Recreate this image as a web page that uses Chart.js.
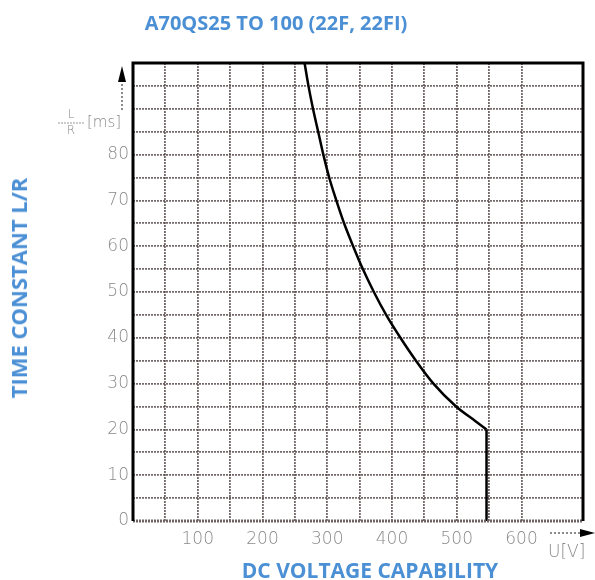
<!DOCTYPE html>
<html>
<head>
<meta charset="utf-8">
<script src="https://cdn.jsdelivr.net/npm/chart.js@4.4.1/dist/chart.umd.min.js"></script>
<style>
  body { margin: 0; background: #fff; }
  #wrap { position: relative; width: 595px; height: 580px; }
  .lbl { position: absolute; color: #4b8fd5; font-family: "Open Sans", sans-serif; font-weight: 700; white-space: nowrap; }
  #title { left: 276px; top: 22px; font-size: 20px; transform: translate(-50%, -50%); }
  #xtitle { left: 370px; top: 570px; font-size: 21px; transform: translate(-50%, -50%); }
  #ytitle { left: 18px; top: 288px; font-size: 22px; transform: translate(-50%, -50%) rotate(-90deg); }
</style>
</head>
<body>
<div id="wrap">
  <canvas id="chart" width="595" height="580"></canvas>
  <div class="lbl" id="title">A70QS25 TO 100 (22F, 22FI)</div>
  <div class="lbl" id="xtitle">DC VOLTAGE CAPABILITY</div>
  <div class="lbl" id="ytitle">TIME CONSTANT L/R</div>
</div>
<script>
// curve: U [V] vs L/R [ms], last point is the foot of the vertical drop
const voltage = [265, 271, 278, 286, 294, 303, 314, 326, 340, 355, 372, 391, 413, 437, 464, 499, 529, 546, 546];
const timeConstant = [100, 95, 90, 85, 80, 75, 70, 65, 60, 55, 50, 45, 40, 35, 30, 25, 21.8, 20, 0];
const xLabels = [100, 200, 300, 400, 500, 600];
const yLabels = [0, 10, 20, 30, 40, 50, 60, 70, 80];

const tickColor = "#8a8a8a";
const tickFont = { family: "DejaVu Sans", size: 17, weight: "200" };

const points = voltage.map((u, i) => ({ x: u, y: timeConstant[i] }));

// frame, arrows and the small unit labels
const decorPlugin = {
  id: "decor",
  afterDraw(chart) {
    const { ctx, chartArea: a } = chart;
    ctx.save();
    // bottom line, dotted and thick
    ctx.strokeStyle = "#6e6464";
    ctx.lineWidth = 3;
    ctx.setLineDash([2, 1]);
    ctx.beginPath();
    ctx.moveTo(a.left, a.bottom);
    ctx.lineTo(a.right, a.bottom);
    ctx.stroke();
    // left, top, right in solid black
    ctx.setLineDash([]);
    ctx.strokeStyle = "#000";
    ctx.beginPath();
    ctx.moveTo(a.left, a.bottom);
    ctx.lineTo(a.left, a.top);
    ctx.lineTo(a.right, a.top);
    ctx.lineTo(a.right, a.bottom);
    ctx.stroke();

    // y arrow
    const ax = a.left - 11;
    ctx.strokeStyle = "#666";
    ctx.lineWidth = 1.5;
    ctx.setLineDash([2, 2]);
    ctx.beginPath();
    ctx.moveTo(ax, a.top + 47);
    ctx.lineTo(ax, a.top + 18);
    ctx.stroke();
    ctx.setLineDash([]);
    ctx.fillStyle = "#000";
    ctx.beginPath();
    ctx.moveTo(ax, a.top + 3);
    ctx.lineTo(ax - 4, a.top + 19);
    ctx.lineTo(ax + 4, a.top + 19);
    ctx.closePath();
    ctx.fill();

    // x arrow
    const ay = a.bottom + 12;
    ctx.setLineDash([2, 2]);
    ctx.beginPath();
    ctx.moveTo(a.right - 33, ay);
    ctx.lineTo(a.right - 2, ay);
    ctx.stroke();
    ctx.setLineDash([]);
    ctx.beginPath();
    ctx.moveTo(a.right + 12, ay);
    ctx.lineTo(a.right - 3, ay - 4);
    ctx.lineTo(a.right - 3, ay + 4);
    ctx.closePath();
    ctx.fill();

    // L/R [ms]
    ctx.fillStyle = tickColor;
    ctx.font = "200 12px 'DejaVu Sans'";
    ctx.textAlign = "center";
    ctx.textBaseline = "middle";
    ctx.fillText("L", 71, a.top + 52);
    ctx.fillText("R", 71, a.top + 68);
    ctx.strokeStyle = "#999";
    ctx.lineWidth = 1;
    ctx.setLineDash([2, 1]);
    ctx.beginPath();
    ctx.moveTo(58, a.top + 60);
    ctx.lineTo(85, a.top + 60);
    ctx.stroke();
    ctx.setLineDash([]);
    ctx.font = "200 15px 'DejaVu Sans'";
    ctx.textAlign = "left";
    ctx.fillText("[ms]", 87, a.top + 60);

    // U[V]
    ctx.font = "200 17px 'DejaVu Sans'";
    ctx.fillText("U[V]", a.right - 35, a.bottom + 32);
    ctx.restore();
  }
};

const gridStyle = { color: "rgba(80, 68, 68, 0.8)", lineWidth: 1.8, drawTicks: false };
const lineStyle = { showLine: true, borderColor: "#000", borderWidth: 2.5, pointRadius: 0 };

new Chart(document.getElementById("chart"), {
  type: "scatter",
  data: {
    datasets: [
      { ...lineStyle, data: points.slice(0, -1), cubicInterpolationMode: "monotone" },
      { ...lineStyle, data: points.slice(-2), tension: 0 }
    ]
  },
  options: {
    responsive: false,
    animation: false,
    layout: { padding: { top: 63, right: 12, left: 0, bottom: 0 } },
    plugins: { legend: { display: false }, tooltip: { enabled: false } },
    scales: {
      x: {
        type: "linear",
        min: 0,
        max: 695,
        afterFit: (s) => { s.height = 59; },
        grid: gridStyle,
        border: { display: false, dash: [2, 1] },
        ticks: {
          stepSize: 50,
          padding: 8,
          color: tickColor,
          font: tickFont,
          maxRotation: 0,
          autoSkip: false,
          callback: (v) => (xLabels.includes(v) ? String(v) : "")
        }
      },
      y: {
        min: 0,
        max: 100,
        afterFit: (s) => { s.width = 133; },
        grid: gridStyle,
        border: { display: false, dash: [2, 1] },
        ticks: {
          stepSize: 5,
          padding: 4,
          color: tickColor,
          font: tickFont,
          autoSkip: false,
          callback: (v) => (yLabels.includes(v) ? String(v) : "")
        }
      }
    }
  },
  plugins: [decorPlugin]
});
</script>
</body>
</html>
